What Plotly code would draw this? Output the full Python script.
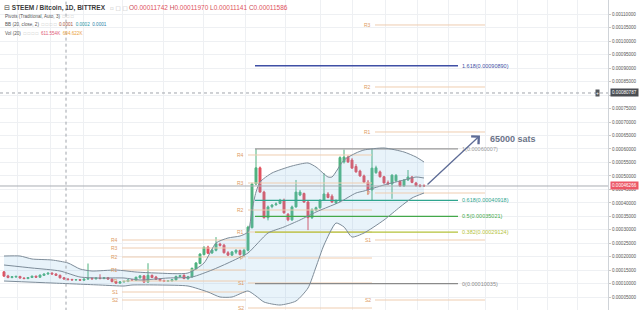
import plotly.graph_objects as go

SAT = 1e-8  # values below are in satoshi

# ---------------- candles (satoshi) ----------------
opens = [14400,12900,12300,12500,12700,12100,11900,12300,12800,12400,13100,13600,13900,13600,13100,12200,11742,11586,11400,11500,
         11300,11700,12000,11800,12100,11900,12200,11700,10800,10200,10700,10800,11400,11200,12200,12900,10600,13100,12500,11700,
         11200,10900,11000,11400,12600,13100,11800,12500,15500,17500,20800,23600,21400,22400,24700,24300,21500,20600,21700,22300,
         20800,22400,30800,47000,53000,44000,34500,38600,39300,39800,41000,35800,33700,38500,42900,43500,40300,34500,37400,38200,
         41000,43300,42500,40000,40700,55200,57000,55900,53500,51800,50000,47700,44800,51200,51500,49700,47500,47000,48200,48000,
         46300,48500,49600,47400,46500,46400]
highs = [14700,13300,12800,13000,12900,12400,12500,13000,13000,13400,13800,14200,14300,13900,13400,12500,11970,11800,11700,11700,
         11900,17500,12400,12300,13500,12400,12500,12000,11100,10900,11000,11600,11600,12600,13200,13200,17600,13400,12900,12000,
         11500,11300,11700,13000,13300,13500,12900,16000,18000,21300,23900,24100,22900,27300,25200,24800,22100,22100,22800,22700,
         23000,31500,47500,60007,53500,44500,39000,39500,40200,41500,41600,36200,39000,48500,44800,43800,40800,38000,38600,41300,
         51000,44000,43200,41300,57300,59800,57600,56600,54400,52300,50500,48500,60000,53800,52000,50000,48300,50600,50700,48400,
         48800,52200,50000,47800,47000,46900]
lows = [12600,12000,12000,12200,11900,11700,11700,12100,12200,12200,12900,13300,13400,12900,11900,11500,11141,11200,11200,11100,
        11100,11500,11600,11600,11700,11700,11500,10500,10035,10100,10400,10600,11100,11000,11900,10300,10400,12100,11400,10900,
        10700,10800,10900,11200,12400,11700,11600,12300,15200,17200,20500,21000,21100,22000,23800,21200,20300,20400,21000,20500,
        19900,22000,30500,46500,43800,34200,33500,38000,38900,39500,36000,33200,33300,38200,42500,40000,29900,34000,37000,37800,
        40700,41700,40000,39600,40300,54600,54800,52600,51200,49700,47400,43000,41000,50800,49400,47200,46800,41500,47800,46000,
        46000,48200,47300,46000,45800,45900]
closes = [12800,12300,12600,12700,12100,11900,12300,12800,12400,13200,13600,13900,13600,13100,12200,11742,11586,11400,11500,11300,
          11700,12000,11800,12100,11900,12200,11700,10800,10200,10700,10900,11400,11300,12400,12900,10600,13100,12300,11600,11100,
          10900,11100,11500,12700,13000,11900,12600,15700,17700,21000,23500,21300,22500,24800,24200,21500,20600,21800,22400,20800,
          22400,31000,47000,53000,44000,34500,38500,39200,39600,41000,36300,33700,38500,44000,44000,40300,34500,37400,38200,41000,
          43300,42000,40300,40700,56800,57000,55200,52900,51500,50000,47700,44800,52900,53000,49700,47400,47000,50300,50200,46300,
          48500,49600,47600,46400,46200,46266]
candle_idx = list(range(len(opens)))

# ---------------- Bollinger bands (satoshi) ----------------
bb_upper_idx = [0,4,7,12,16,19,22,28,33,38,46,50,53,56,59,61,62,63,64,67,72,76,78,81,82,85,88,90,95,100,103,105]
bb_upper = [20282,20282,19168,18797,17683,15456,14714,15085,14342,13971,13971,17683,25107,26963,27706,29190,37357,44038,47750,
            51091,53690,54803,53318,49606,49606,55917,58515,59629,60371,58886,57030,55174]
bb_mid_idx = [0,7,14,19,24,30,34,41,47,52,56,61,63,66,70,74,78,81,84,88,90,95,100,103,105]
bb_mid = [16941,15827,14714,12486,12115,12115,11373,12115,12486,15085,17683,21395,24365,28819,31046,33645,36614,38470,40326,
          43667,44410,46637,48493,49606,49235]
bb_lower_idx = [0,12,24,30,32,39,46,51,54,57,61,63,65,69,73,76,78,80,83,85,87,90,95,99,102,105]
bb_lower = [10998,10259,9517,9146,9517,9517,9146,6918,5062,5062,7290,5434,3206,2093,3578,8403,16198,24365,32531,31046,27334,
            28819,33645,38470,41811,43667]

# ---------------- pivot points (Traditional) ----------------
pivot_periods = [(29.5, 60.5), (61, 92), (92.75, 120.25)]
pivot_names = [["R4", "R3", "R2", "R1", "P", "S1", "S2"],
               ["R4", "R3", "R2", "R1", "P", "S1", "S2"],
               ["R3", "R2", "R1", "P", "S1", "S2"]]
pivot_levels = [[26221, 23251, 19910, 15085, 10998, 6918, 3949],
                [57773, 47379, 37357, 29190, 19539, 10259, 978],
                [106029, 83014, 66310, 43667, 26221, 3949]]

# ---------------- fibonacci retracement ----------------
fib_ratios = ["1.618", "1", "0.618", "0.5", "0.382", "0"]
fib_values = [90890, 60007, 40918, 35021, 29124, 10035]
fib_colors = ["#3f4fa5", "#9a9a9a", "#2fa58f", "#43a84a", "#b4c23a", "#8a8a8a"]
fib_span = (62.75, 113.5)

# ---------------- misc ----------------
last_price = closes[-1]
crosshair_idx = 15.5
crosshair_value = 80787
target_value = 65000
target_idx = 119
y_ticks = [5000 * k for k in range(1, 23)]
hidden_tick = 80000  # covered by the crosshair price marker
grid_idx = [3.25, 11.5, 19.75, 29.5, 39.75, 49.75, 60.25, 70.25, 79, 87, 95.25, 103.25, 111, 120.25, 128.25, 135.75, 143.25]

fig = go.Figure()

# BB fill
fig.add_trace(go.Scatter(
    x=bb_upper_idx + bb_lower_idx[::-1],
    y=[v * SAT for v in bb_upper] + [v * SAT for v in bb_lower[::-1]],
    fill="toself", fillcolor="rgba(120,185,225,0.17)", line=dict(width=0),
    mode="lines", hoverinfo="skip", showlegend=False))

# pivot lines
for (x0, x1), names, levels in zip(pivot_periods, pivot_names, pivot_levels):
    xs, ys = [], []
    for lv in levels:
        xs += [x0, x1, None]
        ys += [lv * SAT, lv * SAT, None]
    fig.add_trace(go.Scatter(x=xs, y=ys, mode="lines", line=dict(color="#efcdb0", width=1),
                             hoverinfo="skip", showlegend=False))
    for nm, lv in zip(names, levels):
        fig.add_annotation(x=x0 - 0.6, y=lv * SAT, text=nm, showarrow=False, xanchor="right", yanchor="middle",
                           font=dict(size=5, color="#de9a62", family="Liberation Sans"))

# fib lines
for r, v, c in zip(fib_ratios, fib_values, fib_colors):
    fig.add_trace(go.Scatter(x=[fib_span[0], fib_span[1]], y=[v * SAT, v * SAT], mode="lines",
                             line=dict(color=c, width=1.3), hoverinfo="skip", showlegend=False))
    fig.add_annotation(x=fib_span[1] + 0.6, y=v * SAT, text=f"{r}({v * SAT:.8f})", showarrow=False,
                       xanchor="left", yanchor="middle", font=dict(size=5.5, color=c, family="Liberation Sans"))

# BB lines
for xs, vs in [(bb_upper_idx, bb_upper), (bb_mid_idx, bb_mid), (bb_lower_idx, bb_lower)]:
    fig.add_trace(go.Scatter(x=xs, y=[v * SAT for v in vs], mode="lines", line=dict(color="#7d8c99", width=1, shape="spline", smoothing=0.6),
                             hoverinfo="skip", showlegend=False))

# last price line
fig.add_trace(go.Scatter(x=[-1, 151], y=[last_price * SAT] * 2, mode="lines",
                         line=dict(color="#a9adb3", width=1), hoverinfo="skip", showlegend=False))
# crosshair
fig.add_trace(go.Scatter(x=[-1, 151], y=[crosshair_value * SAT] * 2, mode="lines",
                         line=dict(color="#a0a4ab", width=1, dash="3px,3px"), hoverinfo="skip", showlegend=False))
fig.add_trace(go.Scatter(x=[crosshair_idx, crosshair_idx], y=[0, 0.0012], mode="lines",
                         line=dict(color="#a0a4ab", width=1, dash="3px,3px"), hoverinfo="skip", showlegend=False))

# candles
fig.add_trace(go.Candlestick(
    x=candle_idx, open=[v * SAT for v in opens], high=[v * SAT for v in highs],
    low=[v * SAT for v in lows], close=[v * SAT for v in closes],
    increasing=dict(line=dict(color="#4fb27f", width=1), fillcolor="#4fb27f"),
    decreasing=dict(line=dict(color="#e2505e", width=1), fillcolor="#e2505e"),
    whiskerwidth=0, showlegend=False, hoverinfo="skip"))

# arrow + target text
fig.add_annotation(x=target_idx, y=target_value * SAT, ax=candle_idx[-1] + 0.5, ay=last_price * SAT,
                   axref="x", ayref="y", xref="x", yref="y", text="", showarrow=True,
                   arrowhead=4, arrowsize=1.6, arrowwidth=1.3, arrowcolor="#5e6c96")
fig.add_annotation(x=target_idx + 2, y=(target_value - 1400) * SAT, text="<b>65000 sats</b>", showarrow=False,
                   xanchor="left", yanchor="middle", font=dict(size=9, color="#6b7489", family="Liberation Sans"))

W = 608.0
H = 310.0
def px(x):
    return x / W
def py(y):
    return 1 - y / H

FONT = "Liberation Sans"
fig.add_annotation(xref="paper", yref="paper", x=px(2), y=py(8), xanchor="left", yanchor="middle", showarrow=False,
                   text="⊟ <b>STEEM / Bitcoin, 1D, BITTREX</b>", font=dict(size=6.5, color="#3a3a3a", family=FONT))
fig.add_annotation(xref="paper", yref="paper", x=px(108), y=py(8), xanchor="left", yanchor="middle", showarrow=False,
                   text="▫ □ □", font=dict(size=5.5, color="#b8b8b8", family="DejaVu Sans"))
ohlc = "O<span style='color:#e0525c'>0.00011742</span> H<span style='color:#e0525c'>0.00011970</span> " \
       "L<span style='color:#e0525c'>0.00011141</span> C<span style='color:#e0525c'>0.00011586</span>"
fig.add_annotation(xref="paper", yref="paper", x=px(127), y=py(8), xanchor="left", yanchor="middle", showarrow=False,
                   text=ohlc, font=dict(size=6.5, color="#c8505a", family=FONT))
fig.add_annotation(xref="paper", yref="paper", x=px(3), y=py(16.5), xanchor="left", yanchor="middle", showarrow=False,
                   text="Pivots (Traditional, Auto, 3)  <span style='color:#bbbbbb'>□ □ □</span>", font=dict(size=4.6, color="#555", family=FONT))
fig.add_annotation(xref="paper", yref="paper", x=px(3), y=py(24.5), xanchor="left", yanchor="middle", showarrow=False,
                   text="BB (20, close, 2)  <span style='color:#bbbbbb'>□ □ □ □</span>  <span style='color:#a5523c'>0.0001</span>  "
                        "<span style='color:#2693a3'>0.0002</span>  <span style='color:#2680a8'>0.0001</span>",
                   font=dict(size=4.6, color="#555", family=FONT))
fig.add_annotation(xref="paper", yref="paper", x=px(3), y=py(33), xanchor="left", yanchor="middle", showarrow=False,
                   text="Vol (20)  <span style='color:#bbbbbb'>□ □ □ □</span>  <span style='color:#e05a78'>611.554K</span>  "
                        "<span style='color:#eba23c'>694.622K</span>",
                   font=dict(size=4.6, color="#555", family=FONT))

# axis markers
fig.add_annotation(xref="paper", yref="y", x=1.003, y=last_price * SAT, xanchor="left", yanchor="middle", showarrow=False,
                   text=f"{last_price * SAT:.8f}", bgcolor="#ec5766", borderpad=1,
                   font=dict(size=4.6, color="white", family=FONT))
fig.add_annotation(xref="paper", yref="y", x=1.003, y=crosshair_value * SAT, xanchor="left", yanchor="middle", showarrow=False,
                   text=f"{crosshair_value * SAT:.8f}", bgcolor="#4a4d52", borderpad=1,
                   font=dict(size=4.6, color="white", family=FONT))
fig.add_annotation(xref="paper", yref="y", x=px(600), y=crosshair_value * SAT, xanchor="right", yanchor="middle", showarrow=False,
                   text="+", bgcolor="#55585d", borderpad=0,
                   font=dict(size=5, color="white", family=FONT))

tick_text = ["" if v == hidden_tick else f"{v * SAT:.8f}" for v in y_ticks]

fig.update_layout(
    width=640, height=310, margin=dict(l=0, r=32, t=0, b=0),
    paper_bgcolor="white", plot_bgcolor="white",
    xaxis=dict(range=[-1, 151], showticklabels=False, tickvals=grid_idx, showgrid=True, gridcolor="#eef0f3",
               gridwidth=1, zeroline=False, rangeslider=dict(visible=False), fixedrange=True),
    yaxis=dict(range=[0.0000024, 0.001153], side="right", tickvals=[v * SAT for v in y_ticks],
               ticktext=tick_text, tickfont=dict(size=4.6, color="#555", family=FONT),
               showgrid=True, gridcolor="#eef0f3", zeroline=False, showline=True, linecolor="#cfd3d8",
               ticks="outside", ticklen=2, tickcolor="#c8c8c8"),
    showlegend=False,
)

fig.write_html("out.html")
